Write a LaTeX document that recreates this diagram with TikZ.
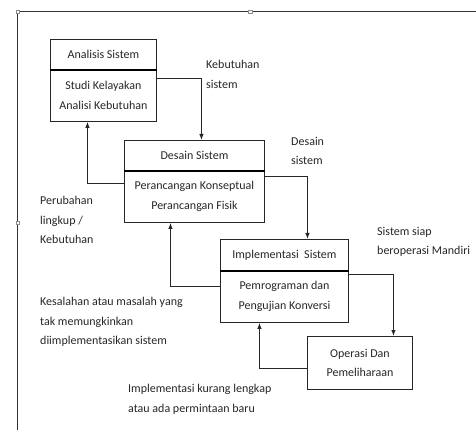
\documentclass[tikz,border=0pt]{standalone}
\usepackage{fontspec}
\setmainfont{Carlito}
\usetikzlibrary{arrows.meta}
\begin{document}
\begin{tikzpicture}[x=1pt,y=-1pt,
  every node/.style={font=\fontsize{12}{19.5}\selectfont, text=black!85},
  box/.style={draw=black!85, line width=0.9pt, inner sep=0pt, align=center, anchor=north west},
  lbl/.style={inner sep=0pt, align=left, anchor=north west},
  arr/.style={draw=black!85, line width=0.9pt, -{Latex[length=6pt,width=4.5pt]}},
  frame/.style={draw=black!80, line width=1pt},
  handle/.style={draw=black!45, fill=white, line width=0.5pt, minimum size=3.5pt, inner sep=0pt}
]
\useasboundingbox (0,0) rectangle (476,430);
% frame
\coordinate (f0) at (17.5,12);
\coordinate (f1) at (476,12);
\coordinate (f2) at (17.5,430);
\draw[frame] (f1) -- (f0) -- (f2);
\node[handle] (h1) at (17.5,12) {};
\node[handle] (h2) at (250,12) {};
\node[handle] (h3) at (17.5,223) {};
% Analisis Sistem
\node[box, minimum width=106pt, minimum height=30pt] (a1) at (50,39) {Analisis Sistem};
\node[box, minimum width=106pt, minimum height=52pt] (a2) at (50,69) {Studi Kelayakan\\Analisi Kebutuhan};
\draw[line width=1.6pt, black] (a1.south west) -- (a1.south east);
% Desain Sistem
\node[box, minimum width=140pt, minimum height=30pt] (d1) at (124,140) {Desain Sistem};
\node[box, minimum width=140pt, minimum height=52pt] (d2) at (124,170) {Perancangan Konseptual\\Perancangan Fisik};
\draw[line width=1.6pt, black] (d1.south west) -- (d1.south east);
% Implementasi Sistem
\node[box, minimum width=128pt, minimum height=31pt] (i1) at (220,239) {Implementasi\ \ Sistem};
\node[box, minimum width=128pt, minimum height=52pt] (i2) at (220,270) {Pemrograman dan\\Pengujian Konversi};
\draw[line width=1.6pt, black] (i1.south west) -- (i1.south east);
% Operasi
\node[box, minimum width=105pt, minimum height=53pt] (op) at (307,336) {Operasi Dan\\Pemeliharaan};
% connectors
\draw[arr] ([yshift=17pt]a2.east) -| ([xshift=7pt]d1.north);
\draw[arr] ([yshift=13pt]d2.west) -| ([xshift=-16pt]a2.south);
\draw[arr] ([yshift=20pt]d2.east) -| ([xshift=23pt]i1.north);
\draw[arr] ([yshift=10pt]i2.west) -| ([xshift=-24pt]d2.south);
\draw[arr] ([yshift=22pt]i2.east) -| ([xshift=33.5pt]op.north);
\draw[arr] ([yshift=-5.5pt]op.west) -| ([xshift=-25pt]i2.south);
% labels
\node[lbl] (l1) at (206,60) {Kebutuhan\\sistem};
\node[lbl] (l2) at (291,137) {Desain\\sistem};
\node[lbl] (l3) at (40,196) {Perubahan\\lingkup /\\Kebutuhan};
\node[lbl] (l4) at (40,297) {Kesalahan atau masalah yang\\tak memungkinkan\\diimplementasikan sistem};
\node[lbl] (l5) at (128,384) {Implementasi kurang lengkap\\atau ada permintaan baru};
\node[lbl] (l6) at (377,227) {Sistem siap\\beroperasi Mandiri};
\end{tikzpicture}
\end{document}
